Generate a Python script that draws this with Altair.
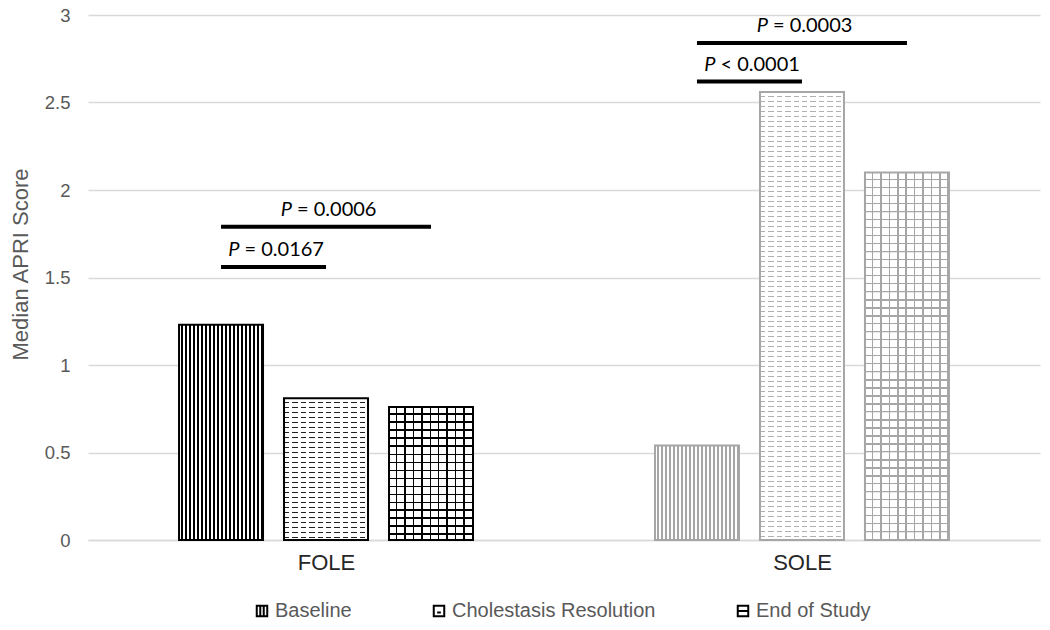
import altair as alt
import pandas as pd

# ---------------- data ----------------
groups = ["FOLE", "SOLE"]
series = ["Baseline", "Cholestasis Resolution", "End of Study"]
fole_values = [1.23, 0.81, 0.76]
sole_values = [0.54, 2.56, 2.10]

sig_group = ["FOLE", "FOLE", "SOLE", "SOLE"]
sig_from = ["Baseline", "Baseline", "Baseline", "Baseline"]
sig_to = ["Cholestasis Resolution", "End of Study", "Cholestasis Resolution", "End of Study"]
sig_height = [1.56, 1.79, 2.62, 2.84]
sig_symbol = ["P", "P", "P", "P"]
sig_text = ["= 0.0167", "= 0.0006", "< 0.0001", "= 0.0003"]

y_ticks = [0, 0.5, 1, 1.5, 2, 2.5, 3]

# ---------------- layout / style ----------------
PLOT_W, PLOT_H = 952, 525
Y_MAX = 3
GROUP_STEP = 4.533          # distance between group centres, in bar steps
BAR_HALF = 0.4              # half bar width, in bar steps
X_DOMAIN = [-2.267, 6.8]
PX_PER_UNIT = PLOT_H / Y_MAX
PX_PER_STEP = PLOT_W / (X_DOMAIN[1] - X_DOMAIN[0])
BAR_PX = 2 * BAR_HALF * PX_PER_STEP
SEG_PX = 40.0               # pattern tile height (px)
SEG_U = SEG_PX / PX_PER_UNIT

group_colors = {"FOLE": "#000000", "SOLE": "#a6a6a6"}
WHITE = "#ffffff"
CLEAR = "rgba(255,255,255,0)"
AXIS_FONT = "Liberation Sans"


def center(gi, si):
    return gi * GROUP_STEP + (si - 1)


def stripes(length_px, period_px, line_px, line_color, gap_color, direction):
    stops = []
    k = 0
    gap = period_px - line_px
    while k * period_px < length_px - 0.01:
        a = k * period_px / length_px
        b = min((k * period_px + gap) / length_px, 1.0)
        c = min((k + 1) * period_px / length_px, 1.0)
        stops += [
            {"offset": round(a, 5), "color": gap_color},
            {"offset": round(b, 5), "color": gap_color},
            {"offset": round(b, 5), "color": line_color},
            {"offset": round(c, 5), "color": line_color},
        ]
        k += 1
    g = {"gradient": "linear", "stops": stops}
    if direction == "x":
        g.update(x1=0, y1=0, x2=1, y2=0)
    else:
        g.update(x1=0, y1=0, x2=0, y2=1)
    return g


rows = []
seg_rows = []
for gi, g in enumerate(groups):
    vals = fole_values if g == "FOLE" else sole_values
    for si, s in enumerate(series):
        c = center(gi, si)
        v = vals[si]
        rows.append(dict(group=g, series=s, value=v,
                         x0=c - BAR_HALF, x1=c + BAR_HALF, base=0.0))
        k = 0
        while v - k * SEG_U > 1e-9:
            top = v - k * SEG_U
            seg_rows.append(dict(group=g, series=s, top=top, bot=top - SEG_U,
                                 x0=c - BAR_HALF, x1=c + BAR_HALF))
            k += 1
bars = pd.DataFrame(rows)
segs = pd.DataFrame(seg_rows)

sig_rows = []
for g, f, t, h, p, txt in zip(sig_group, sig_from, sig_to, sig_height, sig_symbol, sig_text):
    gi = groups.index(g)
    xa = center(gi, series.index(f))
    xb = center(gi, series.index(t))
    sig_rows.append(dict(xa=xa, xb=xb, xm=(xa + xb) / 2, height=h, p=p, txt=txt))
sig = pd.DataFrame(sig_rows)

xs = alt.Scale(domain=X_DOMAIN, nice=False, zero=False)
ys = alt.Scale(domain=[0, Y_MAX], nice=False, zero=True)

label_expr = "[" + ",".join("'%s'" % g for g in groups) + "][round(datum.value / %s)]" % GROUP_STEP

x_axis = alt.Axis(values=[i * GROUP_STEP for i in range(len(groups))], labelExpr=label_expr,
                  grid=False, ticks=False, domain=True, domainColor="#d9d9d9", domainWidth=1.5,
                  labelFontSize=22, labelColor="#262626", labelFont=AXIS_FONT, labelPadding=12,
                  title=None)
y_axis = alt.Axis(values=y_ticks, format="~g", grid=True, gridColor="#d9d9d9", gridWidth=1.5,
                  domain=False, ticks=False, labelFontSize=18.5, labelColor="#595959",
                  labelFont=AXIS_FONT, labelPadding=18,
                  title="Median APRI Score", titleFontSize=22, titleColor="#595959",
                  titleFont=AXIS_FONT, titleFontWeight="normal",
                  titleX=-68, titleY=249, titleAlign="center", titleBaseline="middle")


def xenc(field):
    return alt.X(field, scale=xs, axis=x_axis)


def yenc(field):
    return alt.Y(field, scale=ys, axis=y_axis)


layers = []
for gi, g in enumerate(groups):
    col = group_colors[g]
    for si, s in enumerate(series):
        d = bars[(bars.group == g) & (bars.series == s)]
        sd = segs[(segs.group == g) & (segs.series == s)]
        enc = dict(x=xenc("x0:Q"), x2="x1:Q", y=yenc("value:Q"), y2="base:Q")
        senc = dict(x=xenc("x0:Q"), x2="x1:Q", y=yenc("top:Q"), y2="bot:Q")
        base = alt.Chart(d)
        sbase = alt.Chart(sd)
        if s == "Baseline":
            layers.append(base.mark_bar(fill=stripes(BAR_PX, 4.0, 2.0, col, WHITE, "x"),
                                        strokeWidth=0).encode(**enc))
        elif s == "Cholestasis Resolution":
            dash_col = "#222222" if g == "FOLE" else "#b0b0b0"
            layers.append(sbase.mark_bar(fill=stripes(SEG_PX, 5.0, 1.3, dash_col, WHITE, "y"),
                                         strokeWidth=0, clip=True).encode(**senc))
            layers.append(base.mark_bar(fill=stripes(BAR_PX, BAR_PX / 10, 3.0, WHITE, CLEAR, "x"),
                                        strokeWidth=0).encode(**enc))
        else:
            layers.append(sbase.mark_bar(fill=stripes(SEG_PX, 8.0, 1.5, col, WHITE, "y"),
                                         strokeWidth=0, clip=True).encode(**senc))
            layers.append(base.mark_bar(fill=stripes(BAR_PX, BAR_PX / 10, 1.5, col, CLEAR, "x"),
                                        strokeWidth=0).encode(**enc))
        layers.append(base.mark_bar(fill="transparent", stroke=col, strokeWidth=2).encode(**enc))

# significance brackets
sig_base = alt.Chart(sig)
layers.append(sig_base.mark_rule(strokeWidth=4, color="black", strokeCap="butt").encode(
    x=xenc("xa:Q"), x2="xb:Q", y=yenc("height:Q")))
layers.append(sig_base.mark_text(font="Lato", fontStyle="italic", fontSize=20, color="black",
                                 align="right", baseline="alphabetic", dx=-34, dy=-11).encode(
    x=xenc("xm:Q"), y=yenc("height:Q"), text="p:N"))
layers.append(sig_base.mark_text(font="Lato", fontSize=20, color="black",
                                 align="left", baseline="alphabetic", dx=-29, dy=-11).encode(
    x=xenc("xm:Q"), y=yenc("height:Q"), text="txt:N"))

# legend (custom pattern-like symbols)
legend_paths = [
    "M-1,-1H1V1H-1Z M-0.33,-1V1 M0.33,-1V1",
    "M-1,-1H1V1H-1Z M-0.35,0.3H0.35",
    "M-1,-1H1V1H-1Z M-1,0H1",
]
legend_layer = alt.Chart(pd.DataFrame({"series": series})).mark_point(
    filled=False, color="black", strokeWidth=2, opacity=1
).encode(
    shape=alt.Shape("series:N", scale=alt.Scale(domain=series, range=legend_paths),
                    legend=alt.Legend(title=None, orient="none", legendX=164, legendY=586,
                                      direction="horizontal", columns=3, columnPadding=77,
                                      labelFontSize=20, labelColor="#595959", labelFont=AXIS_FONT,
                                      labelLimit=500,
                                      symbolSize=110, symbolStrokeWidth=2, symbolStrokeColor="black",
                                      labelOffset=3, padding=0))
).transform_filter("false")
layers.append(legend_layer)

chart = alt.layer(*layers).properties(
    width=PLOT_W, height=PLOT_H,
    padding={"left": 80, "top": 7, "right": 2, "bottom": 82},
    autosize="none",
    background="white",
).configure_view(strokeWidth=0).configure_legend(labelFont=AXIS_FONT)

chart.save("out.html", embed_options={"renderer": "svg", "actions": False})
